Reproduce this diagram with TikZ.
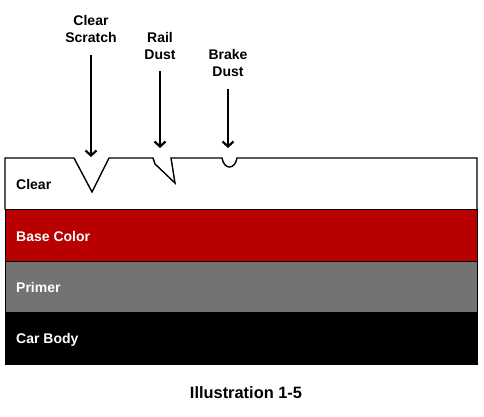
\documentclass[tikz,border=0pt]{standalone}
\usepackage{fontspec}
\setmainfont{Liberation Sans}
\usetikzlibrary{arrows.meta}
\definecolor{basered}{HTML}{B80000}
\definecolor{primergrey}{HTML}{737373}
\tikzstyle{layer} = [rectangle, anchor=north west, inner sep=0pt, outer sep=0pt,
    minimum width=472pt, minimum height=51.5pt]
\tikzstyle{layername} = [anchor=base west, inner sep=0pt, font=\bfseries\fontsize{14}{16}\selectfont]
\tikzstyle{defect} = [align=center, anchor=south, inner sep=0pt, outer sep=0pt,
    font=\bfseries\fontsize{14}{17}\selectfont]
\tikzstyle{pointer} = [draw, line width=2.4pt, shorten <=12pt, -{Straight Barb[length=5pt, width=11pt, line width=2.2pt]}]

\begin{document}
\begin{tikzpicture}[x=1pt, y=-1pt]
	\useasboundingbox (0,0) rectangle (484,417);

		% paint layers
		\node [layer] (clear) at (5,158) {};
		\node [layer, fill=basered, draw] (base) at (5,209.5) {};
		\node [layer, fill=primergrey, draw] (primer) at (5,261) {};
		\node [layer, fill=black, draw] (body) at (5,312.5) {};

		% clear coat with the damage in it
		\draw [line width=1.3pt] (clear.south west) -- (clear.north west) -- (74,158)
			-- (92,192) -- (109,158) -- (153,158) -- (155,164) -- (175,183)
			-- (171,158) -- (222,158) .. controls (224,170) and (235,170) .. (237,158)
			-- (clear.north east) -- (clear.south east);
		\draw [white, line width=1.6pt] (75.5,158) -- (107.5,158);
		\draw [white, line width=1.6pt] (155,158) -- (170,158);
		\draw [white, line width=1.6pt] (223.5,158) -- (235.5,158);
		\draw [line width=0.8pt] (74,158) -- (92,192) -- (109,158);
		\draw [line width=0.8pt] (153,158) -- (155,164) -- (175,183) -- (171,158);
		\draw [line width=0.8pt] (222,158) .. controls (224,170) and (235,170) .. (237,158);

		\node [layername] (clearname) at (16,189) {Clear};
		\node [layername, white] (basename) at (16,241) {Base Color};
		\node [layername, white] (primername) at (16,292) {Primer};
		\node [layername, white] (bodyname) at (16,343) {Car Body};

		% what is hitting the paint
		\node [defect] (scratch) at (91,43) {Clear\\Scratch};
		\node [defect] (rail) at (160,59.5) {Rail\\Dust};
		\node [defect] (brake) at (228,77) {Brake\\Dust};

		\coordinate (scratchtip) at (91,157);
		\coordinate (railtip) at (160,148);
		\coordinate (braketip) at (228,148);

		\path [pointer] (scratch.south) -- (scratchtip);
		\path [pointer] (rail.south) -- (railtip);
		\path [pointer] (brake.south) -- (braketip);

		\node [anchor=base, inner sep=0pt, font=\bfseries\fontsize{16.4}{19}\selectfont] (caption) at (246,398) {Illustration 1-5};
	\end{tikzpicture}
\end{document}
